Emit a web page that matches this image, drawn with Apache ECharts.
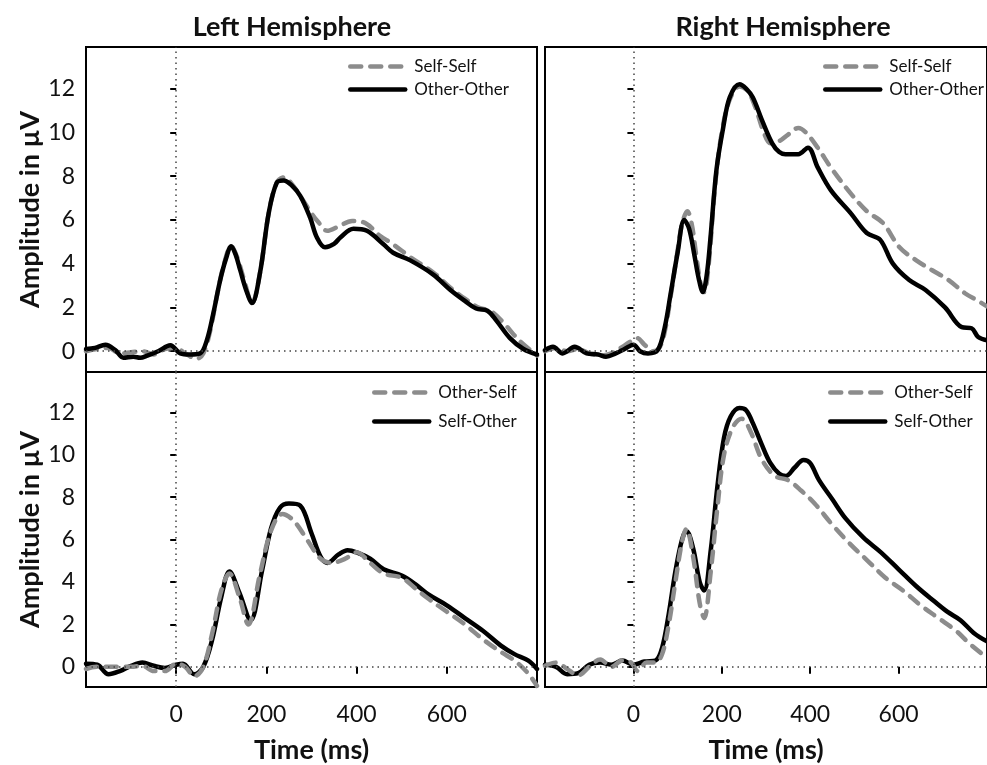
<!DOCTYPE html>
<html>
<head>
<meta charset="utf-8">
<script src="https://cdn.jsdelivr.net/npm/echarts@6/dist/echarts.min.js"></script>
<style>
html,body{margin:0;padding:0;background:#fff;}
#chart{width:987px;height:765px;}
</style>
</head>
<body>
<div id="chart"></div>
<script>
// ---------- DATA ----------
var panelTitles = ['Left Hemisphere', 'Right Hemisphere'];
var xTickValues = [0, 200, 400, 600];
var yTickValues = [0, 2, 4, 6, 8, 10, 12];

// Top-left: Self-Self (gray dashed), Other-Other (black)
var tlSelfSelfT = [-200,-175,-150,-125,-100,-75,-50,-25,0,20,45,60,75,90,105,122,135,150,168,186,205,223,240,258,278,300,315,335,360,390,420,450,480,519,570,608,640,670,700,730,760,800];
var tlSelfSelfV = [0.0,0.1,0.15,-0.1,-0.05,0.0,-0.15,0.1,0.15,-0.1,-0.35,-0.1,0.9,2.5,3.9,4.8,4.3,3.3,2.2,3.6,6.3,7.7,7.95,7.6,7.0,6.3,5.9,5.5,5.7,5.95,5.85,5.3,4.9,4.3,3.6,2.9,2.4,2.0,1.8,1.2,0.5,-0.2];
var tlOtherOtherT = [-200,-180,-157,-135,-117,-95,-80,-64,-40,-13,9,30,53,68,82,97,110,122,132,142,155,168,186,205,223,238,255,275,297,312,330,350,364,393,423,459,481,519,570,608,640,665,690,710,740,770,800];
var tlOtherOtherV = [0.1,0.15,0.3,0.05,-0.3,-0.25,-0.3,-0.2,0.0,0.27,-0.1,-0.15,-0.1,0.5,1.7,3.2,4.2,4.8,4.4,3.7,2.8,2.2,3.6,6.3,7.7,7.8,7.6,7.1,6.1,5.2,4.75,4.9,5.2,5.6,5.5,4.9,4.5,4.15,3.5,2.8,2.3,1.95,1.85,1.4,0.6,0.1,-0.15];

// Top-right
var trSelfSelfT = [-200,-175,-150,-125,-100,-75,-50,-25,-10,8,25,44,60,72,85,100,110,122,132,142,152,160,170,185,200,218,240,258,275,295,310,330,350,373,390,417,450,492,528,565,602,640,676,713,750,780,800];
var trSelfSelfV = [0.0,0.15,0.0,0.1,-0.1,-0.2,-0.1,0.2,0.4,0.6,0.3,0.0,0.2,1.0,2.6,4.6,5.8,6.4,5.8,4.4,3.1,2.7,3.9,7.6,10.0,11.5,12.1,11.9,11.2,10.0,9.5,9.6,9.9,10.2,10.0,9.3,8.3,7.2,6.4,5.85,4.75,4.15,3.7,3.25,2.65,2.3,2.05];
var trOtherOtherT = [-200,-182,-160,-133,-106,-80,-62,-40,-20,0,15,33,55,71,84,100,115,126,137,148,157,166,174,188,203,218,240,255,270,292,314,330,344,360,373,395,417,447,492,528,558,587,624,661,705,743,765,780,800];
var trOtherOtherV = [0.05,0.2,-0.1,0.2,-0.1,-0.15,-0.25,-0.1,0.1,0.3,0.0,-0.1,0.05,1.1,2.6,4.5,6.0,5.6,4.5,3.3,2.7,3.5,5.1,8.3,10.2,11.6,12.2,12.0,11.6,10.5,9.5,9.1,9.0,9.0,9.0,9.3,8.4,7.35,6.3,5.4,5.1,4.0,3.25,2.8,2.0,1.1,1.05,0.65,0.5];

// Bottom-left: Other-Self (gray dashed), Self-Other (black)
var blOtherSelfT = [-200,-175,-150,-125,-100,-75,-50,-25,0,20,40,60,80,100,118,140,160,185,210,235,260,290,320,345,375,400,430,460,500,530,560,600,640,680,720,750,780,800];
var blOtherSelfV = [-0.1,0.0,0.0,0.0,0.0,0.05,-0.2,-0.2,0.15,0.0,-0.45,0.0,1.6,3.6,4.4,3.3,2.0,4.3,6.4,7.2,6.9,6.0,5.1,4.9,5.1,5.4,4.9,4.4,4.2,3.7,3.2,2.6,2.0,1.3,0.7,0.3,-0.3,-0.9];
var blSelfOtherT = [-200,-175,-150,-125,-100,-75,-50,-25,0,15,40,60,80,100,118,140,165,190,210,230,250,275,300,320,335,360,380,400,430,460,500,530,560,600,640,680,720,750,780,800];
var blSelfOtherV = [0.15,0.1,-0.35,-0.2,0.05,0.2,0.05,-0.05,0.1,0.15,-0.35,0.0,1.3,3.3,4.5,3.5,2.2,4.5,6.5,7.5,7.7,7.6,6.3,5.2,4.9,5.3,5.5,5.4,5.1,4.6,4.3,3.9,3.4,2.9,2.3,1.7,1.0,0.6,0.3,-0.1];

// Bottom-right
var brOtherSelfT = [-200,-175,-150,-125,-100,-75,-50,-25,-5,10,30,50,65,80,95,110,120,135,150,160,175,190,205,225,245,265,290,320,350,380,410,450,490,530,570,610,650,690,730,760,790,800];
var brOtherSelfV = [0.05,0.2,-0.1,-0.4,0.0,0.35,0.0,0.3,0.2,-0.2,0.2,0.2,0.6,2.0,4.0,5.9,6.5,5.2,3.0,2.3,4.5,7.5,10.0,11.3,11.7,11.1,9.8,9.0,8.8,8.3,7.7,6.7,5.8,5.0,4.2,3.6,2.9,2.3,1.7,1.1,0.6,0.5];
var brSelfOtherT = [-200,-175,-150,-125,-100,-75,-50,-25,0,25,50,65,80,95,110,120,135,150,160,175,190,205,220,240,255,270,290,310,330,345,365,385,400,420,450,480,520,560,600,640,680,710,740,770,800];
var brSelfOtherV = [0.1,0.0,-0.35,-0.3,0.1,0.2,0.1,0.3,0.1,0.25,0.3,0.9,2.5,4.5,6.0,6.4,5.6,4.0,3.6,5.5,8.5,10.8,11.8,12.2,12.1,11.5,10.5,9.6,9.1,9.0,9.4,9.75,9.6,8.8,7.9,7.0,6.1,5.4,4.6,3.8,3.1,2.6,2.2,1.6,1.2];

// ---------- CHART ----------
var FONT = 'Lato';
var GRAY = '#8c8c8c';
var INK = '#111';
function zip(t, v) { return t.map(function (x, i) { return [x, v[i]]; }); }

var grids = [
  {left: 86, top: 47, width: 451, height: 325},
  {left: 545, top: 47, width: 451, height: 325},
  {left: 86, top: 372, width: 451, height: 324},
  {left: 545, top: 372, width: 451, height: 324}
];
grids.forEach(function (g) { g.show = true; g.borderColor = '#000'; g.borderWidth = 2; g.backgroundColor = 'transparent'; g.containLabel = false; });

var xAxes = [], yAxes = [];
for (var i = 0; i < 4; i++) {
  var bottom = i >= 2, left = (i % 2) === 0;
  xAxes.push({
    type: 'value', gridIndex: i, min: -200, max: 800,
    axisLine: {show: false}, splitLine: {show: false},
    axisTick: {show: bottom, length: 7, lineStyle: {color: '#000', width: 2}, customValues: xTickValues},
    axisLabel: {show: bottom, color: INK, fontFamily: FONT, fontSize: 23, margin: 16, customValues: xTickValues},
    name: bottom ? 'Time (ms)' : '', nameLocation: 'middle', nameGap: 50,
    nameTextStyle: {fontFamily: FONT, fontWeight: 'bold', fontSize: 27, color: INK}
  });
  yAxes.push({
    type: 'value', gridIndex: i, min: -0.95, max: 13.9,
    axisLine: {show: false}, splitLine: {show: false},
    axisTick: {show: true, length: 6, lineStyle: {color: '#000', width: 2}, customValues: yTickValues},
    axisLabel: {show: left, color: INK, fontFamily: FONT, fontSize: 23, margin: 11, customValues: yTickValues},
    name: left ? 'Amplitude in µV' : '', nameLocation: 'middle', nameGap: 42,
    nameTextStyle: {fontFamily: FONT, fontWeight: 'bold', fontSize: 27, color: INK}
  });
}

function refLines(idx) {
  return {
    type: 'line', xAxisIndex: idx, yAxisIndex: idx, data: [], silent: true, z: 1,
    markLine: {
      silent: true, symbol: 'none', label: {show: false},
      lineStyle: {type: [1.5, 4], color: '#444', width: 1.5},
      data: [{xAxis: 0}, {yAxis: 0}]
    }
  };
}
function solid(name, idx, t, v, z) {
  return {name: name, type: 'line', xAxisIndex: idx, yAxisIndex: idx, data: zip(t, v),
    symbol: 'none', smooth: 0.35, z: z, color: '#000',
    lineStyle: {color: '#000', width: 4.5, cap: 'round', join: 'round'}};
}
function dashed(name, idx, t, v, z) {
  return {name: name, type: 'line', xAxisIndex: idx, yAxisIndex: idx, data: zip(t, v),
    symbol: 'none', smooth: 0.35, z: z, color: GRAY,
    lineStyle: {color: GRAY, width: 4.5, type: [11, 9], cap: 'round', join: 'round'}};
}

var series = [
  refLines(0), refLines(1), refLines(2), refLines(3),
  dashed('Self-Self', 0, tlSelfSelfT, tlSelfSelfV, 2),
  solid('Other-Other', 0, tlOtherOtherT, tlOtherOtherV, 3),
  dashed('Self-Self', 1, trSelfSelfT, trSelfSelfV, 2),
  solid('Other-Other', 1, trOtherOtherT, trOtherOtherV, 3),
  solid('Self-Other', 2, blSelfOtherT, blSelfOtherV, 2),
  dashed('Other-Self', 2, blOtherSelfT, blOtherSelfV, 3),
  solid('Self-Other', 3, brSelfOtherT, brSelfOtherV, 2),
  dashed('Other-Self', 3, brOtherSelfT, brOtherSelfV, 3)
];

function legend(names, left, top, gap) {
  return {data: names, left: left, top: top, orient: 'vertical', itemWidth: 55, itemHeight: 14,
    itemGap: gap, selectedMode: false, padding: 0,
    itemStyle: {opacity: 0},
    lineStyle: {width: 4.5},
    textStyle: {fontFamily: FONT, fontSize: 17, color: INK, padding: [0, 0, 0, 4]}};
}

var option = {
  backgroundColor: '#fff',
  animation: false,
  title: [
    {text: panelTitles[0], left: 287, top: 9, textAlign: 'center',
     textStyle: {fontFamily: FONT, fontWeight: 'bold', fontSize: 27, color: INK}},
    {text: panelTitles[1], left: 778, top: 9, textAlign: 'center',
     textStyle: {fontFamily: FONT, fontWeight: 'bold', fontSize: 27, color: INK}}
  ],
  grid: grids,
  xAxis: xAxes,
  yAxis: yAxes,
  legend: [
    legend(['Self-Self', 'Other-Other'], 348, 58, 6),
    legend(['Self-Self', 'Other-Other'], 823, 58, 6),
    legend(['Other-Self', 'Self-Other'], 372, 384, 12),
    legend(['Other-Self', 'Self-Other'], 828, 384, 12)
  ],
  series: series
};

var chart = echarts.init(document.getElementById('chart'), null, {renderer: 'canvas'});
chart.setOption(option);
</script>
</body>
</html>
